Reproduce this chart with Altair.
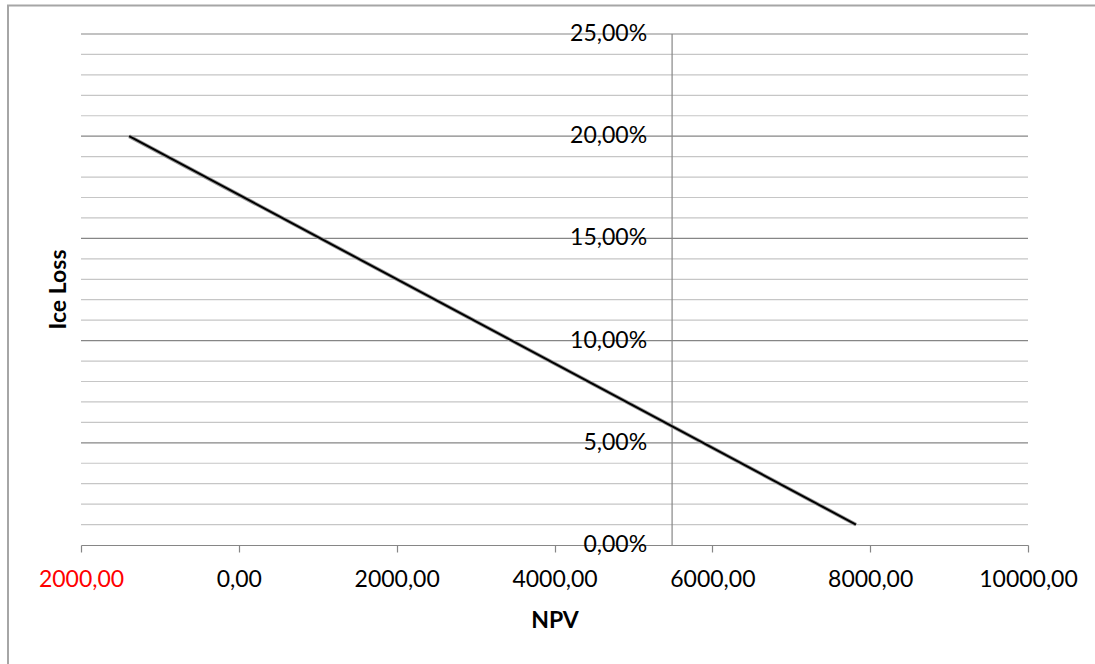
import altair as alt
import pandas as pd

# Ice loss versus net present value
npv = [-1390, 7820]
ice_loss = [0.20, 0.01]

x_ticks = [-2000, 0, 2000, 4000, 6000, 8000, 10000]
y_major = [0.00, 0.05, 0.10, 0.15, 0.20, 0.25]
y_minor = [0.01, 0.02, 0.03, 0.04, 0.06, 0.07, 0.08, 0.09, 0.11, 0.12, 0.13, 0.14,
           0.16, 0.17, 0.18, 0.19, 0.21, 0.22, 0.23, 0.24]
y_axis_cross = 5490  # NPV at which the vertical axis crosses

W, H = 947, 511
FONT = "Lato"
FS = 23
MAJOR = "#868686"
MINOR = "#c6c6c6"

line_df = pd.DataFrame({"npv": npv, "loss": ice_loss})
major_df = pd.DataFrame({"v": y_major[1:]})
minor_df = pd.DataFrame({"v": y_minor})
label_df = pd.DataFrame({
    "v": y_major,
    "label": [f"{v * 100:.2f}%".replace(".", ",") for v in y_major],
})

x_scale = alt.Scale(domain=[x_ticks[0], x_ticks[-1]], nice=False, zero=False)
y_scale = alt.Scale(domain=[0, 0.25], nice=False, zero=False)

minor_grid = alt.Chart(minor_df).mark_rule(color=MINOR, strokeWidth=1.2).encode(
    y=alt.Y("v:Q", scale=y_scale, axis=None),
    x=alt.value(0), x2=alt.value(W),
)
major_grid = alt.Chart(major_df).mark_rule(color=MAJOR, strokeWidth=1.2).encode(
    y=alt.Y("v:Q", scale=y_scale, axis=None),
    x=alt.value(0), x2=alt.value(W),
)

y_axis_line = alt.Chart(pd.DataFrame({"a": [0.0], "b": [0.25]})).mark_rule(
    color=MAJOR, strokeWidth=1.2
).encode(
    x=alt.datum(y_axis_cross, scale=x_scale),
    y=alt.Y("a:Q", scale=y_scale, axis=None),
    y2="b:Q",
)

y_labels = alt.Chart(label_df).mark_text(
    align="right", baseline="middle", dx=-25, fontSize=FS, font=FONT, color="black"
).encode(
    x=alt.datum(y_axis_cross, scale=x_scale),
    y=alt.Y("v:Q", scale=y_scale, axis=None),
    text="label:N",
)

shadow = alt.Chart(line_df).mark_line(color="#9a9a9a", strokeWidth=3.8).encode(
    x=alt.X("npv:Q", scale=x_scale),
    y=alt.Y("loss:Q", scale=y_scale, axis=None),
)

series = alt.Chart(line_df).mark_line(color="black", strokeWidth=2).encode(
    x=alt.X(
        "npv:Q",
        scale=x_scale,
        axis=alt.Axis(
            values=x_ticks,
            title="NPV",
            titleFont=FONT,
            titleFontSize=FS,
            titleFontWeight="bold",
            titleColor="black",
            titlePadding=18,
            labelFont=FONT,
            labelFontSize=FS,
            labelColor={"condition": {"test": "datum.value < 0", "value": "#ff0000"}, "value": "black"},
            labelExpr="replace(format(abs(datum.value), '.2f'), '.', ',')",
            labelPadding=16,
            labelFlush=False,
            labelOverlap=False,
            domainColor=MAJOR,
            domainWidth=1.2,
            tickColor=MAJOR,
            tickWidth=1.2,
            tickSize=7,
            grid=False,
        ),
    ),
    y=alt.Y("loss:Q", scale=y_scale, axis=None),
)

y_title = alt.Chart(pd.DataFrame({"t": ["Ice Loss"]})).mark_text(
    angle=270, fontSize=FS, fontWeight="bold", font=FONT, color="black",
    align="center", baseline="middle",
).encode(
    text="t:N",
    x=alt.value(-22),
    y=alt.value(H / 2),
)

frame = alt.Chart(pd.DataFrame({"f": [0]})).mark_rect(
    filled=False, stroke="#a6a6a6", strokeWidth=2
).encode(
    x=alt.value(-73), x2=alt.value(W + 100),
    y=alt.value(-28.5), y2=alt.value(H + 150),
)

chart = alt.layer(
    frame, minor_grid, major_grid, y_axis_line, y_labels, shadow, series, y_title
).properties(
    width=W,
    height=H,
    autosize=alt.AutoSizeParams(type="none"),
    padding={"left": 81, "top": 34, "right": 67, "bottom": 119},
    background="white",
).configure_view(strokeWidth=0)

chart.save("out.html", embed_options={"renderer": "svg", "actions": False})
